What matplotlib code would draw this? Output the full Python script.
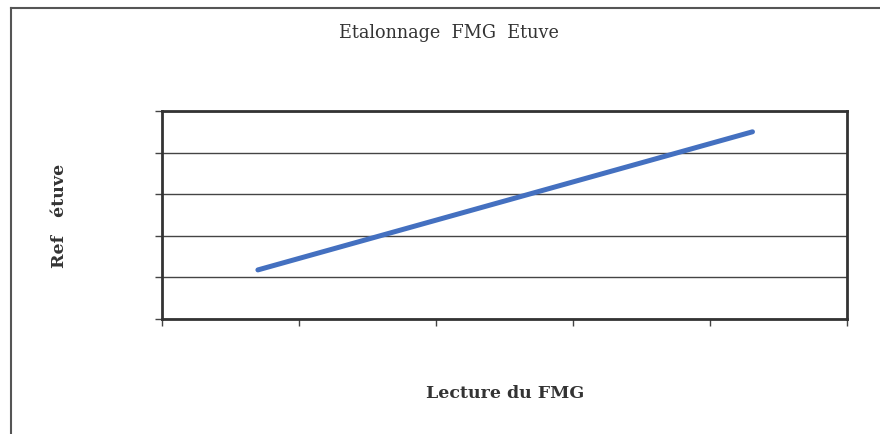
import numpy as np
import matplotlib.pyplot as plt
from matplotlib.lines import Line2D

# Données (aucune graduation affichée)
lecture_fmg = [0.70, 4.31]
ref_etuve = [1.18, 4.50]
x_ticks = [0, 1, 2, 3, 4, 5]
y_ticks = [0, 1, 2, 3, 4, 5]

plt.rcParams['font.family'] = ['DejaVu Serif', 'Liberation Serif']

fig = plt.figure(figsize=(8.8, 4.34), dpi=100)
ax = fig.add_axes([162 / 880, 1 - 319 / 434, 685 / 880, 208 / 434])

ax.plot(lecture_fmg, ref_etuve, color='#4470C0', linewidth=3.6,
        solid_capstyle='round')

ax.set_xlim(x_ticks[0], x_ticks[-1])
ax.set_ylim(y_ticks[0], y_ticks[-1])
ax.set_xticks(x_ticks)
ax.set_yticks(y_ticks)
ax.set_xticklabels([])
ax.set_yticklabels([])
ax.tick_params(direction='out', length=5, width=1, color='#444444')
ax.grid(axis='y', color='#444444', linewidth=1)
ax.set_axisbelow(True)
for sp in ax.spines.values():
    sp.set_color('#333333')
    sp.set_linewidth(2)

fig.text(449 / 880, 1 - 33 / 434, 'Etalonnage  FMG  Etuve', ha='center',
         va='center', fontsize=12.7, color='#333333')
fig.text(60 / 880, 1 - 216 / 434, 'Ref   étuve', ha='center', va='center',
         rotation=90, fontsize=12.5, fontweight='bold', color='#333333')
fig.text(505 / 880, 1 - 393 / 434, 'Lecture du FMG', ha='center',
         va='center', fontsize=12.5, fontweight='bold', color='#333333')

# cadre extérieur (haut et gauche visibles)
fig.add_artist(Line2D([11 / 880, 1], [1 - 8 / 434, 1 - 8 / 434],
                      transform=fig.transFigure, color='#555555', linewidth=1.5))
fig.add_artist(Line2D([11 / 880, 11 / 880], [0, 1 - 8 / 434],
                      transform=fig.transFigure, color='#555555', linewidth=1.5))

fig.savefig('out.png', dpi=100)
